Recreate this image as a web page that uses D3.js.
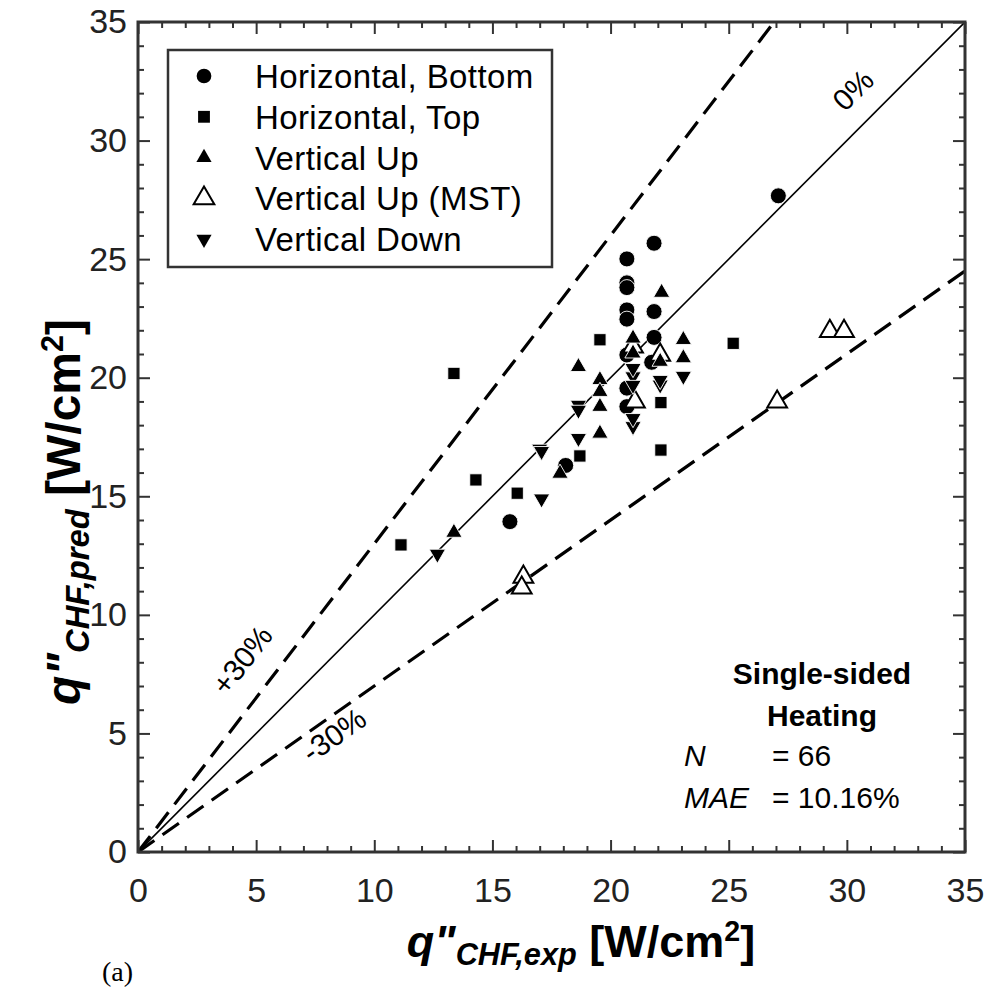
<!DOCTYPE html>
<html>
<head>
<meta charset="utf-8">
<script src="https://cdn.jsdelivr.net/npm/d3@7"></script>
<style>
  body { margin: 0; background: #fff; }
  svg { display: block; font-family: "Liberation Sans", Arial, sans-serif; }
</style>
</head>
<body>
<div id="chart"></div>
<script>
// data: [q_exp, q_pred] in W/cm2
const horizontalBottom = [
  [20.69, 25.01], [20.69, 24.0], [20.69, 23.8], [20.69, 22.86], [20.69, 22.47],
  [21.84, 25.67], [21.84, 22.79], [21.84, 21.7], [20.69, 20.96], [21.74, 20.65],
  [20.69, 19.56], [20.69, 18.78], [15.74, 13.93], [18.1, 16.3], [27.1, 27.67]
];
const horizontalTop = [
  [13.37, 20.18], [14.3, 15.69], [16.05, 15.13], [18.7, 16.7], [11.13, 12.95],
  [22.13, 18.95], [22.13, 16.95], [19.55, 21.6], [25.19, 21.45]
];
const verticalUp = [
  [13.37, 13.47], [17.86, 15.96], [18.64, 20.46], [19.55, 19.91], [19.55, 19.41],
  [19.55, 18.78], [19.55, 17.65], [20.95, 21.66], [20.95, 21.03], [22.1, 20.68],
  [23.08, 21.6], [23.08, 20.83], [22.16, 23.59]
];
const verticalUpMST = [
  [16.31, 11.6], [16.24, 11.14], [29.28, 21.96], [29.88, 21.96], [27.05, 18.98],
  [21.03, 18.99], [22.1, 20.96], [20.95, 21.3]
];
const verticalDown = [
  [12.67, 12.57], [17.08, 14.9], [17.0, 17.0], [17.08, 16.9], [18.64, 17.45],
  [18.64, 18.85], [18.64, 18.64], [20.95, 20.05], [20.95, 20.4], [20.95, 19.69],
  [20.95, 17.95], [20.95, 18.29], [22.1, 19.7], [22.1, 19.9], [23.08, 20.07]
];

const legendLabels = ['Horizontal, Bottom', 'Horizontal, Top', 'Vertical Up', 'Vertical Up (MST)', 'Vertical Down'];
const majorTicks = [0, 5, 10, 15, 20, 25, 30, 35];
const refLines = [
  { slope: 1.3, dash: true },
  { slope: 1.0, dash: false },
  { slope: 0.7, dash: true }
];

const width = 993, height = 993;
const margin = { top: 22, right: 28, bottom: 141, left: 138 };
const axisColor = '#333';

const svg = d3.select('#chart').append('svg')
  .attr('width', width)
  .attr('height', height);

const x = d3.scaleLinear().domain([0, 35]).range([margin.left, width - margin.right]);
const y = d3.scaleLinear().domain([0, 35]).range([height - margin.bottom, margin.top]);

svg.append('clipPath').attr('id', 'plotclip')
  .append('rect')
  .attr('x', x(0)).attr('y', y(35))
  .attr('width', x(35) - x(0)).attr('height', y(0) - y(35));

// reference lines y = k x
const lines = svg.append('g').attr('clip-path', 'url(#plotclip)');
refLines.forEach(l => {
  lines.append('line')
    .attr('x1', x(0)).attr('y1', y(0))
    .attr('x2', x(40)).attr('y2', y(40 * l.slope))
    .attr('stroke', '#000')
    .attr('stroke-width', l.dash ? 3.2 : 1.6)
    .attr('stroke-dasharray', l.dash ? '20,10' : null);
});

// markers (legend order), drawing order puts the open MST triangles under the filled ones
const markerTypes = [
  { data: horizontalBottom, type: d3.symbolCircle, size: 201, rot: 0, open: false },
  { data: horizontalTop, type: d3.symbolSquare, size: 150, rot: 0, open: false },
  { data: verticalUp, type: d3.symbolTriangle, size: 115, rot: 0, open: false },
  { data: verticalUpMST, type: d3.symbolTriangle, size: 170, rot: 0, open: true },
  { data: verticalDown, type: d3.symbolTriangle, size: 115, rot: 180, open: false }
];
const drawOrder = [0, 1, 3, 2, 4];

const pts = svg.append('g').attr('clip-path', 'url(#plotclip)');
drawOrder.forEach(i => {
  const m = markerTypes[i];
  pts.selectAll(null)
    .data(m.data)
    .enter()
    .append('path')
    .attr('d', d3.symbol().type(m.type).size(m.size))
    .attr('transform', d => `translate(${x(d[0])},${y(d[1])}) rotate(${m.rot})`)
    .attr('fill', m.open ? '#fff' : '#000')
    .attr('stroke', m.open ? '#000' : '#fff')
    .attr('stroke-width', m.open ? 2 : 0.9);
});

// axes with inward ticks on all four sides
const minorTicks = d3.range(0, 36).filter(v => v % 5 !== 0);

function styleAxis(g) {
  g.select('.domain').remove();
  g.selectAll('.tick line').attr('stroke', axisColor).attr('stroke-width', 2);
  g.selectAll('.tick text')
    .attr('fill', '#222')
    .attr('font-size', 34)
    .attr('font-family', '"Liberation Sans", Arial, sans-serif');
}

svg.append('g')
  .attr('transform', `translate(0,${y(0)})`)
  .call(d3.axisBottom(x).tickValues(majorTicks).tickSize(-12).tickPadding(26).tickFormat(d3.format('d')))
  .call(styleAxis);
svg.append('g')
  .attr('transform', `translate(0,${y(0)})`)
  .call(d3.axisBottom(x).tickValues(minorTicks).tickSize(-6).tickFormat(''))
  .call(styleAxis);
svg.append('g')
  .attr('transform', `translate(0,${y(35)})`)
  .call(d3.axisTop(x).tickValues(majorTicks).tickSize(-12).tickFormat(''))
  .call(styleAxis);
svg.append('g')
  .attr('transform', `translate(0,${y(35)})`)
  .call(d3.axisTop(x).tickValues(minorTicks).tickSize(-6).tickFormat(''))
  .call(styleAxis);

svg.append('g')
  .attr('transform', `translate(${x(0)},0)`)
  .call(d3.axisLeft(y).tickValues(majorTicks).tickSize(-12).tickPadding(11).tickFormat(d3.format('d')))
  .call(styleAxis);
svg.append('g')
  .attr('transform', `translate(${x(0)},0)`)
  .call(d3.axisLeft(y).tickValues(minorTicks).tickSize(-6).tickFormat(''))
  .call(styleAxis);
svg.append('g')
  .attr('transform', `translate(${x(35)},0)`)
  .call(d3.axisRight(y).tickValues(majorTicks).tickSize(-12).tickFormat(''))
  .call(styleAxis);
svg.append('g')
  .attr('transform', `translate(${x(35)},0)`)
  .call(d3.axisRight(y).tickValues(minorTicks).tickSize(-6).tickFormat(''))
  .call(styleAxis);

// frame
svg.append('rect')
  .attr('x', x(0)).attr('y', y(35))
  .attr('width', x(35) - x(0)).attr('height', y(0) - y(35))
  .attr('fill', 'none')
  .attr('stroke', axisColor)
  .attr('stroke-width', 3);

// legend
const legend = svg.append('g');
legend.append('rect')
  .attr('x', 168).attr('y', 50)
  .attr('width', 384).attr('height', 217)
  .attr('fill', '#fff')
  .attr('stroke', axisColor)
  .attr('stroke-width', 2.5);

const legendSizes = [170, 140, 100, 185, 100];
legendLabels.forEach((label, i) => {
  const m = markerTypes[i];
  const cy = 76 + i * 40.8;
  legend.append('path')
    .attr('d', d3.symbol().type(m.type).size(legendSizes[i]))
    .attr('transform', `translate(204,${cy}) rotate(${m.rot})`)
    .attr('fill', m.open ? '#fff' : '#000')
    .attr('stroke', '#000')
    .attr('stroke-width', m.open ? 2 : 0);
  legend.append('text')
    .attr('x', 255).attr('y', cy + 12)
    .attr('font-size', 33)
    .attr('letter-spacing', 0.4)
    .attr('fill', '#000')
    .text(label);
});

// line labels
const lineLabels = [
  { text: '0%', x: 853, y: 90, angle: -45 },
  { text: '+30%', x: 242, y: 660, angle: -52 },
  { text: '-30%', x: 334, y: 735, angle: -35 }
];
lineLabels.forEach(l => {
  svg.append('text')
    .attr('transform', `translate(${l.x},${l.y}) rotate(${l.angle})`)
    .attr('text-anchor', 'middle')
    .attr('dy', '0.35em')
    .attr('font-size', 30)
    .attr('fill', '#000')
    .text(l.text);
});

// stats box
svg.append('text').attr('x', 822).attr('y', 684).attr('text-anchor', 'middle')
  .attr('font-size', 30).attr('font-weight', 'bold').text('Single-sided');
svg.append('text').attr('x', 822).attr('y', 726).attr('text-anchor', 'middle')
  .attr('font-size', 30).attr('font-weight', 'bold').text('Heating');
svg.append('text').attr('x', 684).attr('y', 766)
  .attr('font-size', 30).attr('font-style', 'italic').text('N');
svg.append('text').attr('x', 772).attr('y', 766)
  .attr('font-size', 30).text('= 66');
svg.append('text').attr('x', 684).attr('y', 808)
  .attr('font-size', 30).attr('font-style', 'italic').text('MAE');
svg.append('text').attr('x', 772).attr('y', 808)
  .attr('font-size', 30).text('= 10.16%');

// axis titles
function axisTitle(sel, sub, fs) {
  const k = fs / 44;
  sel.attr('text-anchor', 'middle')
    .attr('font-size', fs)
    .attr('font-weight', 'bold')
    .attr('fill', '#000');
  sel.append('tspan').attr('font-style', 'italic').text('q"');
  sel.append('tspan').attr('font-style', 'italic').attr('font-size', 30 * k).attr('dy', 8 * k).text(sub);
  sel.append('tspan').attr('dy', -8 * k).text(' [W/cm');
  sel.append('tspan').attr('font-size', 28 * k).attr('dy', -16 * k).text('2');
  sel.append('tspan').attr('dy', 16 * k).text(']');
}

svg.append('text')
  .attr('x', 581).attr('y', 957)
  .call(axisTitle, 'CHF,exp', 45);

svg.append('text')
  .attr('transform', 'translate(80,512) rotate(-90)')
  .call(axisTitle, 'CHF,pred', 48);

svg.append('text')
  .attr('x', 102).attr('y', 981)
  .attr('font-family', '"Liberation Serif", "Times New Roman", serif')
  .attr('font-size', 28)
  .text('(a)');
</script>
</body>
</html>
